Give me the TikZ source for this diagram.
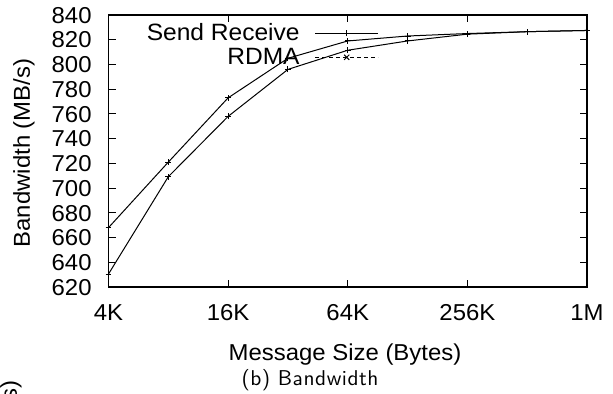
\documentclass[tikz,border=0pt]{standalone}
\usepackage{fontspec}
\setmainfont{Liberation Sans}[FakeStretch=1.04]
\newfontfamily\capfont{Latin Modern Sans}[LetterSpace=2.5]
\usetikzlibrary{shapes.misc}
\begin{document}
\begin{tikzpicture}[x=0.5pt,y=-0.5pt,
  lbl/.style={font=\fontsize{11.5}{13}\selectfont, inner sep=0pt},
  ytl/.style={lbl, anchor=base east},
  xtl/.style={lbl, anchor=base},
  pm/.style={cross out, draw, line width=0.5pt, rotate=45, minimum size=2.1pt, inner sep=0pt, outer sep=0pt},
  xm/.style={cross out, draw, line width=0.5pt, minimum size=2.6pt, inner sep=0pt, outer sep=0pt},
  frame/.style={line width=0.6pt},
  curve/.style={line width=0.5pt},
  tick/.style={line width=0.5pt},
]
\useasboundingbox (0,0) rectangle (613,394);
% frame
\draw[frame] (108.5,15) rectangle (587,287);
% y ticks and labels
\foreach \v in {620,640,...,840}{
  \draw[tick] (108.5,{287-(\v-620)*1.23636}) -- ++(7,0);
  \draw[tick] (587,{287-(\v-620)*1.23636}) -- ++(-7,0);
  \node[ytl] (y\v) at (92,{287-(\v-620)*1.23636+8.2}) {\v};
}
% x ticks and labels
\foreach \i/\t in {0/4K,2/16K,4/64K,6/256K,8/1M}{
  \draw[tick] ({108.5+\i*59.8125},287) -- ++(0,-7);
  \draw[tick] ({108.5+\i*59.8125},15) -- ++(0,7);
  \node[xtl] (x\i) at ({108.5+\i*59.8125},320) {\t};
}
% axis titles
\node[lbl, rotate=90] (ylab) at (24,153) {Bandwidth (MB/s)};
\node[lbl, anchor=base] (xlab) at (345,360) {Message Size (Bytes)};
\node[inner sep=0pt, anchor=base, font={\capfont\fontsize{10.7}{12}\selectfont}] (cap) at (310,385) {(b) Bandwidth};
% fragment of neighbouring figure
\node[lbl, rotate=90, anchor=east] (frag) at (11,380) {(s)};
% data
\begin{scope}[shift={(108.5,287)}, x=29.90625pt, y=0.61818pt]
  \foreach \i/\v in {0/668,1/721,2/773,3/805,4/819,5/823,6/825,7/826.5,8/827.5}
    \node[pm] (u\i) at (\i,{\v-620}) {};
  \foreach \i/\v in {0/630.5,1/709.2,2/758,3/796,4/811.5,5/819,6/824.5,7/826.5,8/827.5}
    \node[pm] (l\i) at (\i,{\v-620}) {};
\end{scope}
\draw[curve] (u0.center) -- (u1.center) -- (u2.center) -- (u3.center) -- (u4.center) -- (u5.center) -- (u6.center) -- (u7.center) -- (u8.center);
\draw[curve] (l0.center) -- (l1.center) -- (l2.center) -- (l3.center) -- (l4.center) -- (l5.center) -- (l6.center) -- (l7.center) -- (l8.center);
% legend
\node[lbl, anchor=base east, font=\fontsize{11.8}{13}\selectfont] (lsr) at (300,40.5) {Send Receive};
\coordinate (lsa) at (315,33.3);
\coordinate (lsb) at (378,33.3);
\draw[curve] (lsa) -- (lsb);
\node[pm] (lsm) at (346.7,33.3) {};
\node[lbl, anchor=base east, font=\fontsize{11.8}{13}\selectfont] (lrd) at (300,65) {RDMA};
\coordinate (lra) at (315,57.3);
\coordinate (lrb) at (378,57.3);
\draw[curve, dash pattern=on 2pt off 1.5pt] (lra) -- (lrb);
\node[xm] (lrm) at (346.7,57.3) {};
\end{tikzpicture}
\end{document}
